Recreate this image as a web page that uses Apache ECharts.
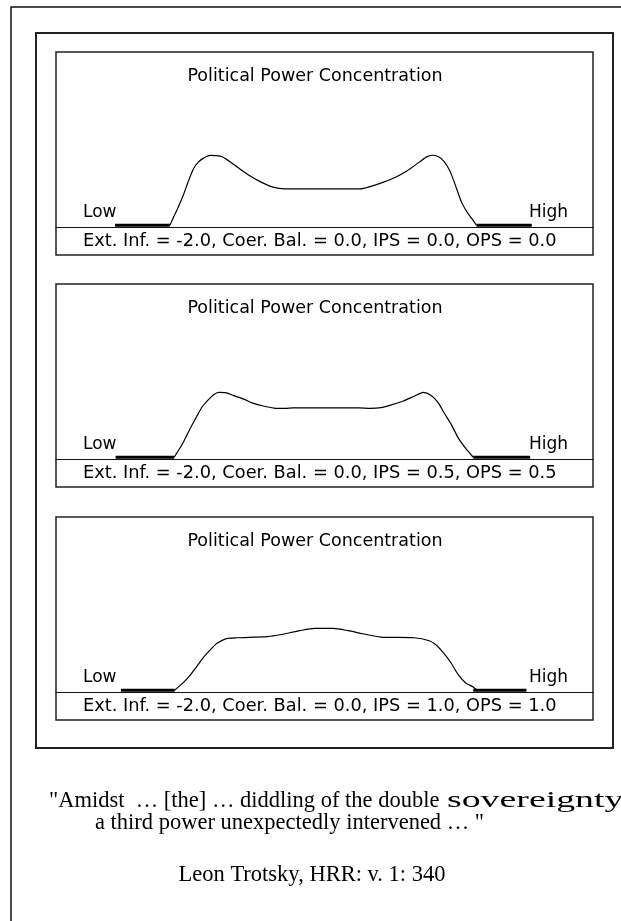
<!DOCTYPE html>
<html>
<head>
<meta charset="utf-8">
<script src="https://cdn.jsdelivr.net/npm/echarts@6/dist/echarts.min.js"></script>
<style>
  html, body { margin: 0; padding: 0; background: #fff; }
  #chart { width: 621px; height: 921px; }
</style>
</head>
<body>
<div id="chart"></div>
<script>
// data (x: 0..100 across the panel, y: % of plot height)
const panelTitle = 'Political Power Concentration';
const lowLabel = 'Low';
const highLabel = 'High';
const captions = [
  'Ext. Inf. = -2.0, Coer. Bal. = 0.0, IPS = 0.0, OPS = 0.0',
  'Ext. Inf. = -2.0, Coer. Bal. = 0.0, IPS = 0.5, OPS = 0.5',
  'Ext. Inf. = -2.0, Coer. Bal. = 0.0, IPS = 1.0, OPS = 1.0'
];

const curveA = [
  [21.2, 0], [21.8, 4], [22.8, 10.7], [23.7, 17.3], [24.6, 25], [25.6, 32.6],
  [26.5, 36.4], [27.4, 38.6], [28.7, 40.3], [29.9, 40.2], [30.9, 39.6], [32.4, 36.7],
  [33.8, 33.5], [36.0, 28.7], [38.2, 24.9], [40.4, 22.0], [42.6, 21.0], [56.6, 21.0],
  [58.8, 22.6], [61.0, 24.9], [63.2, 27.7], [65.4, 31.5], [67.6, 36.3], [69.1, 39.6],
  [70.2, 40.4], [71.0, 39.8], [71.8, 38.3], [72.8, 34.5], [73.7, 28.8], [74.6, 21.1],
  [75.5, 13.5], [76.5, 7.8], [77.4, 4], [78.3, 0]
];
const curveB = [
  [22.0, 0], [23.5, 7.5], [24.8, 15.5], [26.2, 23.5], [27.2, 29], [28.3, 33],
  [29.3, 36], [30.3, 37.4], [31.7, 37.2], [33.1, 35.6], [35.1, 33.4], [36.5, 31.4],
  [38.6, 29.6], [40.6, 28.4], [42.7, 28.2], [44.1, 28.5], [56.4, 28.5], [58.5, 28.2],
  [60.5, 28.6], [62.6, 30.4], [64.7, 32.5], [66.7, 35.2], [68.4, 37.4], [69.8, 35.8],
  [71.2, 31.4], [72.2, 26], [73.6, 19], [74.9, 11.2], [76.3, 5.1], [77.7, 0]
];
const curveC = [
  [22.1, 0], [23.5, 3.8], [24.8, 8.0], [26.2, 13.7], [27.6, 19.5], [29.0, 24.2],
  [30.0, 27.1], [31.7, 29.8], [33.8, 30.3], [39.3, 31.0], [42.0, 32.2], [45.4, 34.4],
  [48.2, 35.7], [51.6, 35.7], [54.4, 34.4], [57.1, 32.6], [60.5, 30.7], [66.7, 30.3],
  [69.5, 28.6], [70.8, 26.1], [72.2, 21.4], [73.6, 15.6], [74.9, 9.0], [76.3, 4.2],
  [77.7, 1.9], [78.4, 0]
];
// flat "low" and "high" end segments drawn heavier on the baseline
const tailsA = [[11.0, 0], [21.2, 0], [50, '-'], [78.3, 0], [88.6, 0]];
const tailsB = [[11.1, 0], [22.0, 0], [50, '-'], [77.7, 0], [88.3, 0]];
const tailsC = [[12.1, 0], [22.1, 0], [50, '-'], [77.7, 0], [87.6, 0]];

// the last word of the first quote line is set wide in the source, so it is drawn apart
const quoteHead = '"Amidst  \u2026 [the] \u2026 diddling of the double';
const quoteTail = 'sovereignty,';
const quoteLine2 = 'a third power unexpectedly intervened \u2026 "';
const citation = 'Leon Trotsky, HRR: v. 1: 340';

const curves = [curveA, curveB, curveC];
const tails = [tailsA, tailsB, tailsC];

// layout
const panelLeft = 56;
const panelWidth = 537;
const panelTops = [52, 284, 517];
const plotHeight = 175;
const captionHeight = 28;
const sansFont = '"DejaVu Sans", sans-serif';
const serifFont = '"Liberation Serif", serif';
const quoteFont = '22.5px ' + serifFont;

const grid = [];
const xAxis = [];
const yAxis = [];
const series = [];
const graphic = [
  {
    type: 'rect', shape: { x: 11, y: 7, width: 700, height: 1000 },
    style: { fill: 'none', stroke: '#111', lineWidth: 1.5 }
  },
  {
    type: 'rect', shape: { x: 36, y: 33, width: 577, height: 715 },
    style: { fill: 'none', stroke: '#222', lineWidth: 2 }
  }
];

panelTops.forEach((top, i) => {
  grid.push({ left: panelLeft, top: top, width: panelWidth, height: plotHeight });
  xAxis.push({
    type: 'value', gridIndex: i, min: 0, max: 100,
    axisLine: { show: true, onZero: false, lineStyle: { color: '#111', width: 1.2 } },
    axisTick: { show: false }, axisLabel: { show: false }, splitLine: { show: false }
  });
  yAxis.push({
    type: 'value', gridIndex: i, min: -1, max: 100, show: false,
    splitLine: { show: false }
  });
  series.push({
    type: 'line', xAxisIndex: i, yAxisIndex: i, data: curves[i],
    smooth: 0.25, symbol: 'none', silent: true,
    lineStyle: { color: '#000', width: 1.2 }
  });
  series.push({
    type: 'line', xAxisIndex: i, yAxisIndex: i, data: tails[i],
    symbol: 'none', silent: true, connectNulls: false,
    lineStyle: { color: '#000', width: 3 }
  });
  graphic.push({
    type: 'rect', shape: { x: panelLeft, y: top, width: panelWidth, height: plotHeight + captionHeight },
    style: { fill: 'none', stroke: '#222', lineWidth: 1.5 }
  });
  graphic.push({
    type: 'text', x: 315, y: top + 24,
    style: { text: panelTitle, font: '17.5px ' + sansFont, fill: '#000', textAlign: 'center', textVerticalAlign: 'middle' }
  });
  graphic.push({
    type: 'text', x: 83, y: top + plotHeight - 14,
    style: { text: lowLabel, font: '17px ' + sansFont, fill: '#000', textAlign: 'left', textVerticalAlign: 'middle' }
  });
  graphic.push({
    type: 'text', x: 568, y: top + plotHeight - 14,
    style: { text: highLabel, font: '17px ' + sansFont, fill: '#000', textAlign: 'right', textVerticalAlign: 'middle' }
  });
  graphic.push({
    type: 'text', x: 83, y: top + plotHeight + captionHeight / 2,
    style: { text: captions[i], font: '17.8px ' + sansFont, fill: '#000', textAlign: 'left', textVerticalAlign: 'middle' }
  });
});

graphic.push({
  type: 'text', x: 49, y: 801,
  style: { text: quoteHead, font: quoteFont, fill: '#000', textAlign: 'left', textVerticalAlign: 'middle' }
});
graphic.push({
  type: 'text', x: 447, y: 801, scaleX: 1.68, originX: 0, originY: 0,
  style: { text: quoteTail, font: quoteFont, fill: '#000', textAlign: 'left', textVerticalAlign: 'middle' }
});
graphic.push({
  type: 'text', x: 95, y: 823,
  style: { text: quoteLine2, font: quoteFont, fill: '#000', textAlign: 'left', textVerticalAlign: 'middle' }
});
graphic.push({
  type: 'text', x: 312, y: 875,
  style: { text: citation, font: quoteFont, fill: '#000', textAlign: 'center', textVerticalAlign: 'middle' }
});

const chart = echarts.init(document.getElementById('chart'), null, { renderer: 'canvas' });
chart.setOption({
  backgroundColor: '#fff',
  animation: false,
  grid: grid,
  xAxis: xAxis,
  yAxis: yAxis,
  series: series,
  graphic: graphic
});
window.addEventListener('resize', () => chart.resize());
</script>
</body>
</html>
